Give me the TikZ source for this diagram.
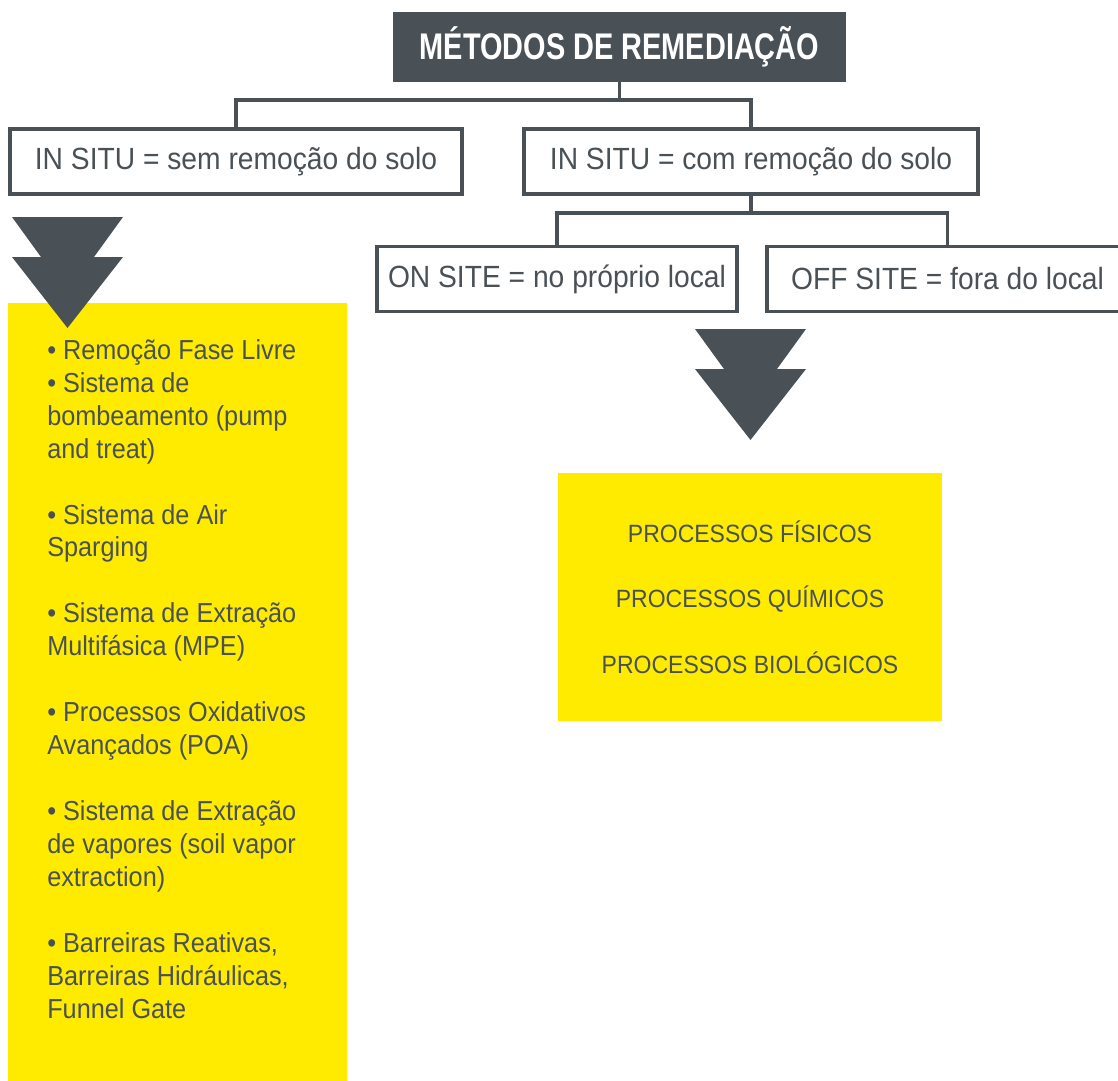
\documentclass[tikz,border=0pt]{standalone}
\usepackage{fontspec}
\setmainfont{Liberation Sans}[FakeStretch=0.92]
\newfontfamily\titulo{Liberation Sans}[FakeStretch=0.78]
\usepackage{tikz}
\usepackage{xcolor}

\definecolor{cinza}{RGB}{74,81,86}
\definecolor{amarelo}{RGB}{255,235,0}

\tikzset{
  caixa/.style={draw=cinza, line width=2.7pt, fill=white, text=cinza, inner sep=0pt,
    minimum height=49pt, font=\fontsize{23}{27}\selectfont},
  ligacao/.style={draw=cinza, line width=2.8pt},
  seta/.style={fill=cinza, draw=none},
}

\begin{document}
\begin{tikzpicture}[x=0.75pt,y=0.75pt,yscale=-1,xscale=1]
\useasboundingbox (0,0) rectangle (1118,1081);

%Shape: Rectangle
\fill [amarelo] (8,303) rectangle (347,1090);
%Shape: Rectangle
\fill [amarelo] (558,473) rectangle (942,721);

%Shape: Title box
\node [fill=cinza, text=white, inner sep=0pt, minimum width=339.75pt, minimum height=52.5pt,
  font=\titulo\bfseries\fontsize{27.8}{32}\selectfont] (metodos) at (619.5,47) {MÉTODOS DE REMEDIAÇÃO};

%Shape: Rectangle boxes
\node [caixa, minimum width=339pt] (semremocao) at (236,161.5) {IN SITU = sem remoção do solo};
\node [caixa, minimum width=340.5pt] (comremocao) at (751,161.5) {IN SITU = com remoção do solo};
\node [caixa, minimum width=270pt] (onsite) at (557,279) {ON SITE = no próprio local};
\node [caixa, minimum width=271pt] (offsite) at (947.5,279) {OFF SITE = fora do local};

%Straight Lines
\coordinate (ramoA) at (619.5,100);
\draw [ligacao] (metodos.south) -- (ramoA);
\draw [ligacao] (semremocao.north) |- (ramoA) -| (comremocao.north);


%Straight Lines
\coordinate (ramoB) at (751,213);
\draw [ligacao] (comremocao.south) -- (ramoB);
\draw [ligacao] (onsite.north) |- (ramoB) -| (offsite.north);


%Shape: Double arrow
\draw [seta] (12,217) -- (123,217) -- (94,257) -- (123,257) -- (67.5,328) -- (12,257) -- (41,257) -- cycle;
%Shape: Double arrow
\draw [seta] (695,329) -- (806,329) -- (777,369) -- (806,369) -- (750.5,440) -- (695,369) -- (724,369) -- cycle;

% Text Node (base = last line)
\node [anchor=base west, inner sep=0pt, align=left, text=cinza, font=\fontsize{20.6}{24.7}\selectfont] (listaInSitu) at (47,1018)
  {• Remoção Fase Livre\\ • Sistema de\\ bombeamento (pump\\ and treat)\\[24.7pt]
   • Sistema de Air\\ Sparging\\[24.7pt]
   • Sistema de Extração\\ Multifásica (MPE)\\[24.7pt]
   • Processos Oxidativos\\ Avançados (POA)\\[24.7pt]
   • Sistema de Extração\\ de vapores (soil vapor\\ extraction)\\[24.7pt]
   • Barreiras Reativas,\\ Barreiras Hidráulicas,\\ Funnel Gate};

% Text Node
\node [anchor=base, inner sep=0pt, align=center, text=cinza, font=\fontsize{18.75}{49.1}\selectfont] (processos) at (750,673)
  {PROCESSOS FÍSICOS\\ PROCESSOS QUÍMICOS\\ PROCESSOS BIOLÓGICOS};

\end{tikzpicture}
\end{document}
